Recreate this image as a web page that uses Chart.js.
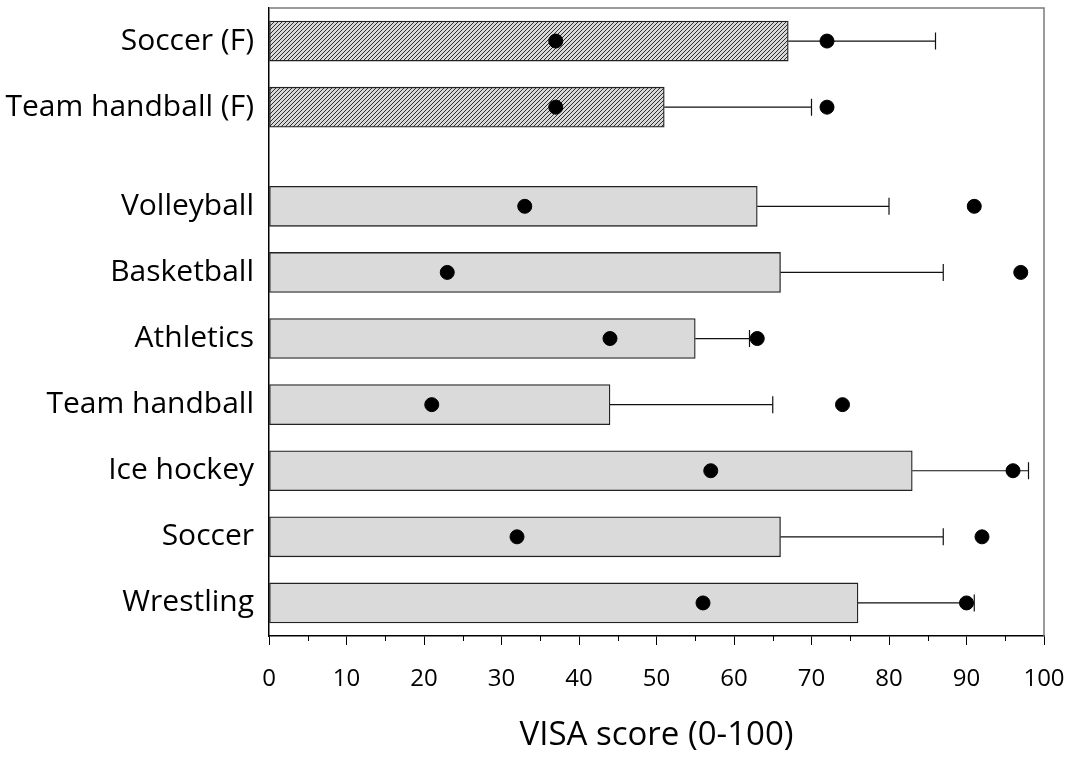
<!DOCTYPE html>
<html lang="en">
<head>
    <meta charset="UTF-8">
    <title>VISA score by sport</title>
    <script src="https://cdn.jsdelivr.net/npm/chart.js"></script>
    <style>
        html, body { margin: 0; padding: 0; background: #fff; }
        #wrap { width: 1078px; height: 758px; }
    </style>
</head>
<body>
    <div id="wrap">
        <canvas id="visaChart" width="1078" height="758"></canvas>
    </div>

    <script>
        // Sports, top to bottom as shown
        const sports = ['Soccer (F)', 'Team handball (F)', 'Volleyball', 'Basketball', 'Athletics', 'Team handball', 'Ice hockey', 'Soccer', 'Wrestling'];
        const meanScore = [67, 51, 63, 66, 55, 44, 83, 66, 76];   // bar length
        const errorEnd = [86, 70, 80, 87, 62, 65, 98, 87, 91];    // end of the error whisker
        const lowDot = [37, 37, 33, 23, 44, 21, 57, 32, 56];
        const highDot = [72, 72, 91, 97, 63, 74, 96, 92, 90];
        const xTicks = [0, 10, 20, 30, 40, 50, 60, 70, 80, 90, 100];

        // row positions: female rows sit above, with an extra half row of gap
        const n = sports.length;
        const rowPos = sports.map((s, i) => (n - 1 - i) + (s.endsWith('(F)') ? 0.5 : 0));

        // hatched fill for the female rows
        const hatchCanvas = document.createElement('canvas');
        hatchCanvas.width = 4;
        hatchCanvas.height = 4;
        const hctx = hatchCanvas.getContext('2d');
        hctx.fillStyle = '#d8d8d8';
        hctx.fillRect(0, 0, 4, 4);
        hctx.strokeStyle = '#2e2e2e';
        hctx.lineWidth = 1;
        hctx.beginPath();
        hctx.moveTo(0, 4); hctx.lineTo(4, 0);
        hctx.moveTo(-1, 1); hctx.lineTo(1, -1);
        hctx.moveTo(3, 5); hctx.lineTo(5, 3);
        hctx.stroke();
        const ctx = document.getElementById('visaChart').getContext('2d');
        const hatch = ctx.createPattern(hatchCanvas, 'repeat');

        const fontFam = "'Open Sans', 'DejaVu Sans', sans-serif";

        // whiskers drawn right after the bars so the dots sit on top
        const whiskers = {
            id: 'whiskers',
            afterDatasetDraw(chart, args) {
                if (args.meta.type !== 'bar') return;
                const c = chart.ctx;
                const xs = chart.scales.x;
                c.save();
                c.strokeStyle = '#111';
                c.lineWidth = 1.2;
                args.meta.data.forEach((bar, i) => {
                    const x0 = xs.getPixelForValue(meanScore[i]);
                    const x1 = xs.getPixelForValue(errorEnd[i]);
                    c.beginPath();
                    c.moveTo(x0, bar.y);
                    c.lineTo(x1, bar.y);
                    c.moveTo(x1, bar.y - 8.5);
                    c.lineTo(x1, bar.y + 8.5);
                    c.stroke();
                });
                c.restore();
            }
        };

        // minor ticks at the 5s and the grey frame on top / right
        const frame = {
            id: 'frame',
            afterDraw(chart) {
                const c = chart.ctx;
                const a = chart.chartArea;
                const xs = chart.scales.x;
                c.save();
                c.strokeStyle = '#000';
                c.lineWidth = 1;
                for (let v = 5; v < 100; v += 10) {
                    const px = Math.round(xs.getPixelForValue(v)) + 0.5;
                    c.beginPath();
                    c.moveTo(px, a.bottom);
                    c.lineTo(px, a.bottom + 5);
                    c.stroke();
                }
                c.strokeStyle = '#7a7a7a';
                c.lineWidth = 1.5;
                c.beginPath();
                c.moveTo(a.left, a.top);
                c.lineTo(a.right, a.top);
                c.lineTo(a.right, a.bottom);
                c.stroke();
                c.restore();
            }
        };

        new Chart(ctx, {
            data: {
                datasets: [
                    {
                        type: 'scatter',
                        data: lowDot.map((v, i) => ({ x: v, y: rowPos[i] })),
                        backgroundColor: '#000',
                        borderColor: '#000',
                        pointRadius: 7,
                        order: 0
                    },
                    {
                        type: 'scatter',
                        data: highDot.map((v, i) => ({ x: v, y: rowPos[i] })),
                        backgroundColor: '#000',
                        borderColor: '#000',
                        pointRadius: 7,
                        order: 0
                    },
                    {
                        type: 'bar',
                        data: meanScore.map((v, i) => ({ x: v, y: rowPos[i] })),
                        backgroundColor: sports.map(s => s.endsWith('(F)') ? hatch : '#dadada'),
                        borderColor: '#222',
                        borderWidth: 1.3,
                        borderSkipped: false,
                        barThickness: 40,
                        order: 5
                    }
                ]
            },
            options: {
                indexAxis: 'y',
                responsive: false,
                animation: false,
                devicePixelRatio: 1,
                layout: { padding: { top: 0, right: 34, left: 0, bottom: 0 } },
                plugins: {
                    legend: { display: false },
                    tooltip: { enabled: false }
                },
                scales: {
                    x: {
                        type: 'linear',
                        position: 'bottom',
                        min: 0,
                        max: 100,
                        offset: false,
                        afterBuildTicks: s => { s.ticks = xTicks.map(v => ({ value: v })); },
                        afterFit: s => {
                            s.height = 122;
                            s.paddingLeft = 0;
                            s.paddingRight = 0;
                        },
                        ticks: {
                            color: '#000',
                            padding: 20,
                            maxRotation: 0,
                            font: { family: fontFam, size: 24 }
                        },
                        grid: {
                            display: true,
                            drawOnChartArea: false,
                            drawTicks: true,
                            tickLength: 9,
                            color: '#000'
                        },
                        border: { display: true, color: '#000', width: 1.5 },
                        title: {
                            display: true,
                            text: 'VISA score (0-100)',
                            color: '#000',
                            font: { family: fontFam, size: 33 },
                            padding: { top: 4, bottom: 3 }
                        }
                    },
                    y: {
                        type: 'linear',
                        min: -0.5,
                        max: 9,
                        offset: false,
                        afterBuildTicks: s => { s.ticks = rowPos.map(v => ({ value: v })); },
                        afterFit: s => {
                            s.width = 269;
                            s.paddingTop = 0;
                            s.paddingBottom = 0;
                        },
                        ticks: {
                            color: '#000',
                            padding: 15,
                            font: { family: fontFam, size: 30 },
                            callback: v => sports[rowPos.indexOf(v)]
                        },
                        grid: { display: false, drawTicks: false, offset: false },
                        border: { display: true, color: '#000', width: 1.5 }
                    }
                }
            },
            plugins: [whiskers, frame]
        });
    </script>
</body>
</html>
